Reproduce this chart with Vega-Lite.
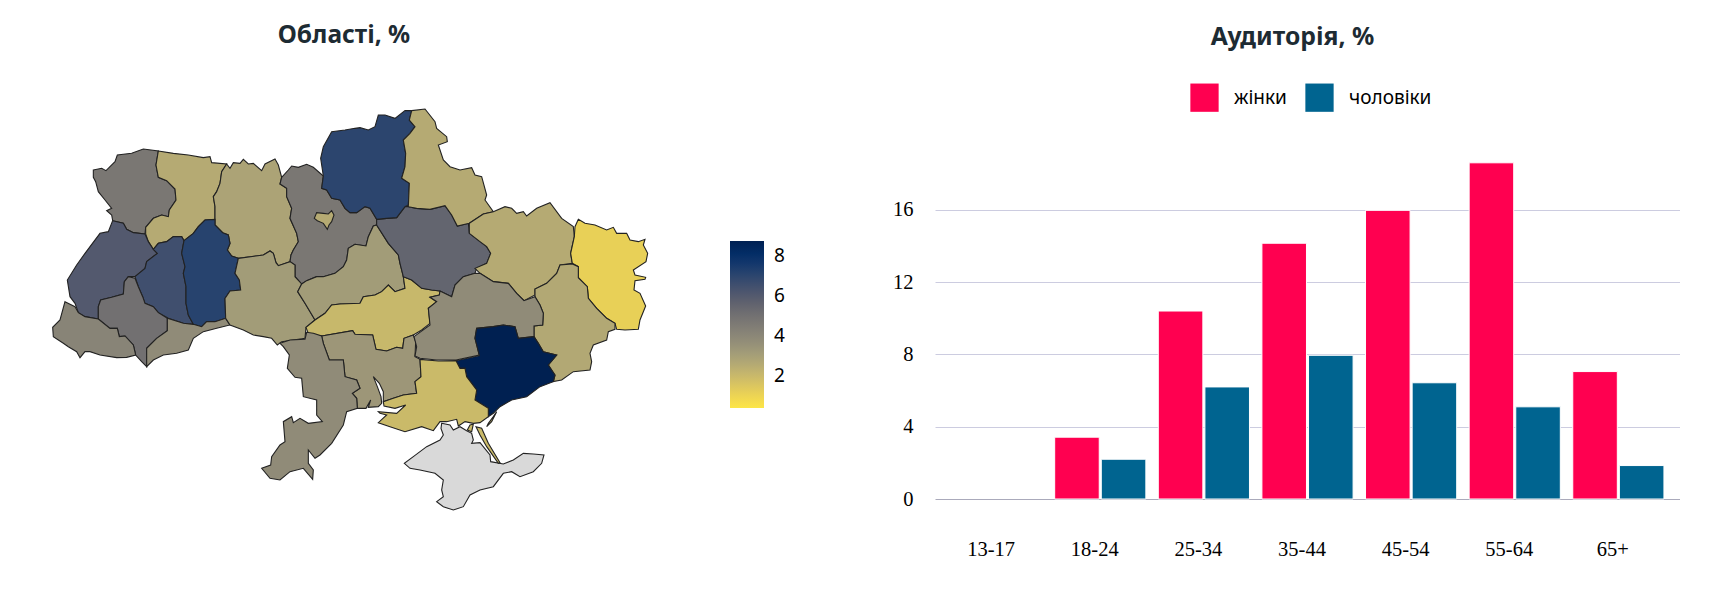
{"$schema":"https://vega.github.io/schema/vega-lite/v6.json","background":"#ffffff","padding":{"left":0,"top":23,"right":0,"bottom":0},"bounds":"flush","spacing":247,"config":{"view":{"stroke":null}},
"datasets":{"crimea":[{"type":"Feature","properties":{"name":"АР Крим"},"geometry":{"type":"Polygon","coordinates":[[[1325,1270],[1350,1275],[1360,1290],[1380,1280],[1400,1292],[1415,1300],[1420,1320],[1415,1330],[1440,1328],[1470,1365],[1472,1385],[1510,1392],[1540,1380],[1570,1360],[1600,1362],[1632,1365],[1625,1390],[1600,1415],[1560,1430],[1535,1415],[1510,1420],[1480,1460],[1440,1470],[1410,1485],[1390,1520],[1360,1530],[1330,1520],[1310,1505],[1330,1490],[1325,1470],[1330,1440],[1305,1420],[1260,1410],[1230,1405],[1213,1390],[1240,1370],[1280,1340],[1320,1320],[1330,1305],[1323,1285],[1325,1270]]]}}],
"regions":[
{"type":"Feature","properties":{"name":"Волинська","value":4.6},"geometry":{"type":"Polygon","coordinates":[[[280,510],[305,505],[318,512],[345,485],[352,465],[395,460],[430,447],[475,453],[468,495],[475,532],[500,542],[525,567],[528,600],[508,630],[505,650],[485,645],[460,655],[437,682],[435,702],[400,698],[380,688],[370,670],[338,662],[335,645],[320,632],[335,625],[315,600],[295,575],[287,545],[280,532],[280,510]]]}},
{"type":"Feature","properties":{"name":"Рівненська","value":2.4},"geometry":{"type":"Polygon","coordinates":[[[475,453],[520,460],[565,465],[610,473],[630,470],[635,488],[680,492],[665,515],[660,550],[650,575],[640,590],[645,620],[645,658],[615,660],[595,680],[580,700],[552,722],[545,710],[520,710],[500,725],[475,730],[460,748],[445,725],[437,702],[437,682],[460,655],[485,645],[505,650],[508,630],[528,600],[525,567],[500,542],[475,532],[468,495],[475,453]]]}},
{"type":"Feature","properties":{"name":"Житомирська","value":2.7},"geometry":{"type":"Polygon","coordinates":[[[680,492],[690,505],[700,488],[720,490],[730,478],[745,492],[760,490],[785,512],[795,492],[825,477],[835,495],[845,532],[840,552],[860,565],[860,590],[875,625],[870,655],[890,700],[895,725],[880,750],[873,765],[870,785],[835,797],[828,788],[820,760],[810,753],[790,765],[715,775],[695,768],[682,750],[690,730],[685,705],[668,698],[645,675],[645,658],[645,620],[640,590],[650,575],[660,550],[665,515],[680,492]]]}},
{"type":"Feature","properties":{"name":"Київська","value":4.6},"geometry":{"type":"Polygon","coordinates":[[[845,532],[865,510],[875,498],[895,502],[920,493],[940,502],[970,528],[965,565],[980,570],[995,595],[1020,600],[1035,625],[1050,638],[1070,638],[1095,620],[1110,625],[1130,658],[1130,675],[1120,678],[1105,710],[1098,738],[1065,733],[1045,745],[1040,780],[1030,800],[1005,820],[970,830],[950,830],[920,842],[905,852],[885,830],[885,795],[870,785],[873,765],[880,750],[895,725],[890,700],[870,655],[875,625],[860,590],[860,565],[840,552],[845,532]]]}},
{"type":"Feature","properties":{"name":"Київ","value":2.4},"geometry":{"type":"Polygon","coordinates":[[[943,655],[950,638],[970,640],[985,642],[995,632],[1002,645],[995,665],[987,675],[982,688],[970,670],[952,662],[943,655]]]}},
{"type":"Feature","properties":{"name":"Львівська","value":5.9},"geometry":{"type":"Polygon","coordinates":[[[338,662],[370,670],[380,688],[400,698],[435,702],[445,725],[460,748],[472,760],[440,785],[435,805],[405,830],[385,830],[373,845],[370,882],[335,892],[302,900],[295,920],[295,957],[255,950],[235,938],[225,910],[210,890],[202,840],[230,795],[255,760],[300,700],[325,695],[338,662]]]}},
{"type":"Feature","properties":{"name":"Тернопільська","value":6.4},"geometry":{"type":"Polygon","coordinates":[[[460,748],[475,730],[500,725],[520,710],[545,710],[552,722],[545,760],[555,800],[550,820],[558,860],[558,910],[565,945],[580,973],[550,970],[505,955],[475,938],[460,920],[435,910],[428,890],[415,860],[405,830],[435,805],[440,785],[472,760],[460,748]]]}},
{"type":"Feature","properties":{"name":"Хмельницька","value":7.0},"geometry":{"type":"Polygon","coordinates":[[[552,722],[580,700],[595,680],[615,660],[645,658],[645,675],[668,698],[685,705],[690,730],[682,750],[695,768],[715,775],[705,820],[718,840],[722,870],[690,873],[675,895],[677,955],[645,965],[620,965],[605,980],[580,973],[565,945],[558,910],[558,860],[550,820],[555,800],[545,760],[552,722]]]}},
{"type":"Feature","properties":{"name":"Івано-Франківська","value":4.9},"geometry":{"type":"Polygon","coordinates":[[[295,957],[295,920],[302,900],[335,892],[370,882],[373,845],[385,830],[405,835],[415,860],[428,890],[435,910],[460,920],[475,938],[502,955],[502,992],[470,1015],[440,1045],[440,1100],[425,1085],[407,1065],[400,1035],[375,1008],[358,1010],[352,985],[330,985],[295,957]]]}},
{"type":"Feature","properties":{"name":"Закарпатська","value":4.0},"geometry":{"type":"Polygon","coordinates":[[[195,905],[225,920],[235,938],[255,950],[295,957],[330,985],[352,985],[358,1010],[375,1008],[400,1035],[407,1065],[380,1072],[350,1073],[300,1065],[270,1055],[255,1055],[240,1073],[230,1055],[205,1040],[190,1030],[160,1010],[158,982],[180,960],[195,905]]]}},
{"type":"Feature","properties":{"name":"Чернівецька","value":3.7},"geometry":{"type":"Polygon","coordinates":[[[502,955],[550,970],[580,973],[605,980],[620,965],[645,965],[677,955],[690,975],[650,985],[610,995],[580,1015],[565,1050],[530,1060],[490,1065],[460,1080],[440,1100],[440,1045],[470,1015],[502,992],[502,955]]]}},
{"type":"Feature","properties":{"name":"Вінницька","value":3.0},"geometry":{"type":"Polygon","coordinates":[[[715,775],[790,765],[810,753],[820,760],[828,788],[835,797],[870,785],[885,795],[885,830],[905,852],[893,875],[915,910],[945,960],[918,982],[915,1015],[880,1020],[845,1025],[832,1035],[815,1015],[790,1010],[760,1005],[730,990],[690,975],[677,955],[675,895],[690,873],[722,870],[718,840],[705,820],[715,775]]]}},
{"type":"Feature","properties":{"name":"Черкаська","value":3.0},"geometry":{"type":"Polygon","coordinates":[[[893,875],[905,852],[920,842],[950,830],[970,830],[1005,820],[1030,800],[1040,780],[1045,745],[1065,733],[1098,738],[1105,710],[1120,678],[1130,675],[1165,730],[1195,765],[1200,790],[1210,830],[1215,865],[1185,875],[1165,855],[1145,875],[1125,885],[1090,890],[1080,910],[1020,912],[995,915],[975,940],[945,960],[915,910],[893,875]]]}},
{"type":"Feature","properties":{"name":"Кіровоградська","value":1.9},"geometry":{"type":"Polygon","coordinates":[[[918,982],[945,960],[975,940],[995,915],[1020,912],[1080,910],[1090,890],[1125,885],[1145,875],[1165,855],[1185,875],[1215,865],[1210,830],[1235,840],[1265,865],[1295,870],[1320,873],[1318,885],[1290,892],[1310,905],[1285,925],[1290,970],[1265,990],[1240,1005],[1212,1015],[1208,1045],[1190,1042],[1160,1053],[1128,1048],[1118,1005],[1065,1003],[1058,992],[965,1008],[945,1005],[925,1000],[918,982]]]}},
{"type":"Feature","properties":{"name":"Миколаївська","value":3.2},"geometry":{"type":"Polygon","coordinates":[[[965,1008],[1058,992],[1065,1003],[1118,1005],[1128,1048],[1160,1053],[1190,1042],[1208,1045],[1212,1015],[1240,1005],[1247,1025],[1245,1070],[1260,1078],[1263,1130],[1245,1145],[1250,1180],[1210,1185],[1180,1195],[1150,1205],[1150,1175],[1138,1150],[1120,1130],[1132,1160],[1143,1190],[1145,1210],[1135,1220],[1105,1222],[1112,1200],[1098,1225],[1072,1225],[1070,1195],[1057,1180],[1080,1165],[1070,1140],[1035,1130],[1030,1080],[988,1080],[970,1030],[965,1008]]]}},
{"type":"Feature","properties":{"name":"Одеська","value":3.7},"geometry":{"type":"Polygon","coordinates":[[[840,1030],[870,1020],[915,1018],[920,997],[940,1000],[965,1008],[970,1030],[988,1080],[1030,1080],[1035,1130],[1070,1140],[1080,1165],[1057,1180],[1070,1195],[1072,1225],[1040,1235],[1030,1275],[995,1330],[960,1365],[945,1375],[925,1350],[925,1390],[940,1410],[938,1438],[910,1405],[870,1415],[840,1440],[810,1435],[785,1405],[812,1395],[815,1370],[840,1335],[855,1325],[850,1265],[875,1250],[880,1268],[900,1255],[925,1270],[967,1265],[950,1245],[950,1200],[910,1190],[905,1135],[885,1132],[862,1105],[868,1065],[850,1040],[840,1030]]]}},
{"type":"Feature","properties":{"name":"Полтавська","value":5.4},"geometry":{"type":"Polygon","coordinates":[[[1130,658],[1160,655],[1190,653],[1215,620],[1225,620],[1250,625],[1290,628],[1335,617],[1355,645],[1372,678],[1405,670],[1408,700],[1440,725],[1460,740],[1472,760],[1460,790],[1430,805],[1425,820],[1390,830],[1365,855],[1355,890],[1320,873],[1295,870],[1265,865],[1235,840],[1210,830],[1200,790],[1195,765],[1165,730],[1130,675],[1130,658]]]}},
{"type":"Feature","properties":{"name":"Чернігівська","value":6.9},"geometry":{"type":"Polygon","coordinates":[[[1235,332],[1228,360],[1245,380],[1230,400],[1210,420],[1217,460],[1215,500],[1205,535],[1228,550],[1225,615],[1215,620],[1190,653],[1160,655],[1130,658],[1110,625],[1095,620],[1070,638],[1050,638],[1035,625],[1020,600],[995,595],[980,570],[965,565],[970,528],[962,475],[970,440],[995,395],[1035,390],[1065,385],[1080,383],[1105,390],[1125,380],[1135,345],[1155,345],[1185,355],[1215,332],[1235,332]]]}},
{"type":"Feature","properties":{"name":"Сумська","value":2.4},"geometry":{"type":"Polygon","coordinates":[[[1235,332],[1275,327],[1305,365],[1310,385],[1340,410],[1342,425],[1315,435],[1330,480],[1350,500],[1380,510],[1415,503],[1425,525],[1445,530],[1460,585],[1455,600],[1480,635],[1450,642],[1408,670],[1372,678],[1355,645],[1335,617],[1290,628],[1250,625],[1225,620],[1228,550],[1205,535],[1215,500],[1217,460],[1210,420],[1230,400],[1245,380],[1228,360],[1235,332]]]}},
{"type":"Feature","properties":{"name":"Харківська","value":2.4},"geometry":{"type":"Polygon","coordinates":[[[1408,670],[1450,642],[1480,635],[1515,620],[1535,625],[1550,640],[1570,635],[1580,648],[1610,625],[1650,608],[1685,655],[1720,680],[1723,710],[1712,760],[1717,790],[1680,795],[1670,820],[1640,850],[1605,867],[1605,885],[1572,902],[1550,880],[1525,850],[1480,845],[1440,820],[1425,805],[1460,790],[1472,760],[1460,740],[1440,725],[1408,700],[1408,670]]]}},
{"type":"Feature","properties":{"name":"Луганська","value":1.0},"geometry":{"type":"Polygon","coordinates":[[[1735,658],[1755,670],[1785,675],[1820,690],[1840,682],[1850,700],[1880,700],[1890,720],[1915,725],[1935,718],[1930,735],[1943,760],[1938,785],[1900,810],[1905,825],[1937,832],[1935,838],[1905,842],[1902,870],[1920,880],[1937,918],[1920,960],[1915,988],[1875,990],[1850,988],[1845,970],[1820,955],[1790,925],[1765,895],[1762,860],[1735,833],[1735,800],[1717,790],[1712,760],[1723,710],[1725,680],[1735,658]]]}},
{"type":"Feature","properties":{"name":"Донецька","value":2.5},"geometry":{"type":"Polygon","coordinates":[[[1717,792],[1735,800],[1735,833],[1762,860],[1765,895],[1790,925],[1820,955],[1845,970],[1845,988],[1825,995],[1820,1020],[1780,1035],[1770,1060],[1775,1085],[1770,1110],[1720,1115],[1685,1140],[1660,1145],[1665,1125],[1645,1095],[1670,1065],[1630,1055],[1615,1030],[1602,1010],[1602,978],[1628,975],[1630,940],[1620,915],[1605,890],[1605,867],[1640,850],[1670,820],[1680,795],[1717,792]]]}},
{"type":"Feature","properties":{"name":"Дніпропетровська","value":3.7},"geometry":{"type":"Polygon","coordinates":[[[1425,820],[1440,820],[1480,845],[1525,850],[1550,880],[1572,902],[1605,890],[1620,915],[1630,940],[1628,975],[1602,978],[1602,1010],[1555,1015],[1545,980],[1510,975],[1480,980],[1430,985],[1425,1015],[1438,1065],[1368,1080],[1310,1080],[1260,1075],[1245,1068],[1250,1040],[1242,1010],[1290,975],[1285,925],[1310,905],[1290,892],[1318,885],[1320,873],[1355,890],[1365,855],[1390,830],[1425,820]]]}},
{"type":"Feature","properties":{"name":"Запорізька","value":8.62},"geometry":{"type":"Polygon","coordinates":[[[1368,1082],[1438,1067],[1425,1015],[1430,985],[1480,980],[1510,975],[1545,980],[1555,1015],[1602,1010],[1615,1030],[1630,1055],[1670,1065],[1645,1095],[1665,1125],[1660,1145],[1620,1160],[1580,1190],[1535,1200],[1500,1220],[1480,1240],[1465,1250],[1465,1225],[1425,1200],[1430,1170],[1400,1130],[1395,1105],[1380,1105],[1368,1082]]]}},
{"type":"Feature","properties":{"name":"Херсонська","value":1.8},"geometry":{"type":"MultiPolygon","coordinates":[[[[1260,1078],[1315,1083],[1368,1082],[1380,1105],[1395,1105],[1400,1130],[1430,1170],[1425,1200],[1465,1225],[1465,1250],[1440,1268],[1420,1270],[1395,1265],[1375,1278],[1370,1258],[1340,1265],[1320,1265],[1300,1292],[1265,1280],[1215,1295],[1170,1280],[1135,1268],[1160,1245],[1140,1240],[1135,1235],[1190,1240],[1217,1215],[1185,1225],[1152,1218],[1150,1205],[1180,1195],[1210,1185],[1250,1180],[1245,1145],[1263,1130],[1260,1078]]],[[[1410,1275],[1420,1272],[1415,1295],[1402,1290],[1410,1275]]],[[[1428,1280],[1445,1285],[1465,1330],[1500,1388],[1495,1390],[1460,1340],[1440,1305],[1428,1280]]],[[[1490,1235],[1475,1265],[1460,1280],[1465,1270],[1480,1250],[1490,1235]]]]}}
],
"ages":[{"age":"13-17","group":"жінки","share":0},{"age":"13-17","group":"чоловіки","share":0},{"age":"18-24","group":"жінки","share":3.42},{"age":"18-24","group":"чоловіки","share":2.2},{"age":"25-34","group":"жінки","share":10.4},{"age":"25-34","group":"чоловіки","share":6.2},{"age":"35-44","group":"жінки","share":14.15},{"age":"35-44","group":"чоловіки","share":7.95},{"age":"45-54","group":"жінки","share":15.97},{"age":"45-54","group":"чоловіки","share":6.43},{"age":"55-64","group":"жінки","share":18.6},{"age":"55-64","group":"чоловіки","share":5.1},{"age":"65+","group":"жінки","share":7.05},{"age":"65+","group":"чоловіки","share":1.85}]},
"hconcat":[
{"width":688,"height":338,"title":{"text":"Області, %","font":"Noto Sans","fontSize":24.5,"fontWeight":"bold","color":"#1d2b33","anchor":"middle","offset":58},
"projection":{"type":"identity","scale":0.33333,"translate":[0,-161]},
"layer":[
{"data":{"name":"crimea"},"mark":{"type":"geoshape","clip":false,"fill":"#d9d9d9","stroke":"#222222","strokeWidth":1.1},"encoding":{}},
{"data":{"name":"regions"},"mark":{"type":"geoshape","clip":false,"stroke":"#222222","strokeWidth":1.1},"encoding":{"color":{"field":"properties.value","type":"quantitative","scale":{"scheme":"cividis","reverse":true,"domain":[0.24,8.62],"nice":false,"zero":false},"legend":{"title":null,"orient":"none","legendX":730,"legendY":80,"gradientLength":167,"gradientThickness":34,"values":[2,4,6,8],"labelFont":"Noto Sans","labelFontSize":19,"labelColor":"#000000","labelOffset":10,"gradientStrokeWidth":0,"encode":{"labels":{"update":{"dy":{"value":3}}}}}}}}
]},
{"width":745,"height":338,"title":{"text":"Аудиторія, %","font":"Noto Sans","fontSize":24.7,"fontWeight":"bold","color":"#1d2b33","anchor":"middle","offset":33,"dx":-15},
"data":{"name":"ages"},
"mark":{"type":"bar","stroke":"#ffffff"},
"encoding":{
"strokeWidth":{"condition":{"test":"datum.share===0","value":0},"value":1},
"x":{"field":"age","type":"nominal","sort":null,"scale":{"paddingInner":0.12,"paddingOuter":0.155},"axis":{"title":null,"domain":false,"ticks":false,"labelAngle":0,"labelFont":"Liberation Serif","labelFontSize":20.5,"labelColor":"#000000","labelPadding":40,"labelOffset":-5.5,"grid":false}},
"xOffset":{"field":"group","sort":["жінки","чоловіки"],"scale":{"paddingInner":0.044}},
"y":{"field":"share","type":"quantitative","scale":{"domain":[0,18.7],"nice":false},"axis":{"title":null,"domain":false,"ticks":false,"values":[0,4,8,12,16],"labelFont":"Liberation Serif","labelFontSize":20.5,"labelColor":"#000000","labelPadding":22,"grid":true,"gridColor":{"condition":{"test":"datum.value===0","value":"#aaaabb"},"value":"#cccce0"}}},
"color":{"field":"group","type":"nominal","sort":["жінки","чоловіки"],"scale":{"domain":["жінки","чоловіки"],"range":["#ff0050","#006490"]},"legend":{"title":null,"orient":"none","direction":"horizontal","legendX":255,"legendY":-78,"symbolType":"square","symbolSize":800,"symbolStrokeWidth":0,"symbolOpacity":1,"labelFont":"Noto Sans","labelFontSize":19,"labelColor":"#000000","labelOffset":15,"columnPadding":18}}
}}
]}
